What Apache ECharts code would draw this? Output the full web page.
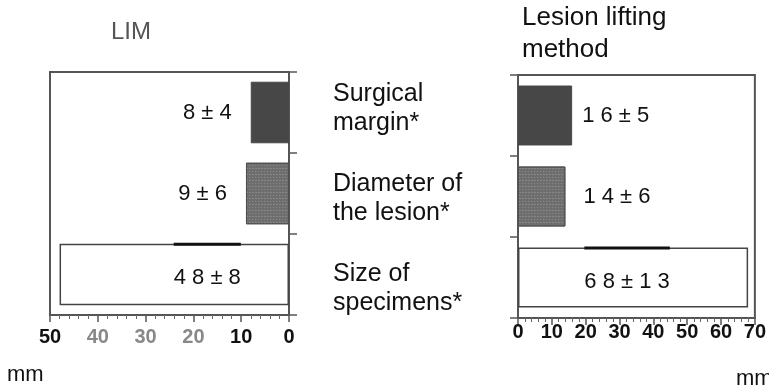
<!DOCTYPE html>
<html>
<head>
<meta charset="utf-8">
<script src="https://cdn.jsdelivr.net/npm/echarts@6/dist/echarts.min.js"></script>
<style>
html,body{margin:0;padding:0;background:#fff;}
#chart{width:769px;height:385px;}
</style>
</head>
<body>
<div id="chart"></div>
<script>
var categories = ['Surgical\nmargin*', 'Diameter of\nthe lesion*', 'Size of\nspecimens*'];
var limMean = [8, 9, 48];
var limSd = [4, 6, 8];
var liftMean = [16, 14, 68];
var liftSd = [5, 6, 13];

var FONT = '"Liberation Sans", Arial, sans-serif';
var barColors = ['#474747', '#6e6e6e', '#ffffff'];
var barBorders = ['#474747', '#505050', '#444444'];
// vertical middle of each category text block in the middle column
var catTextMid = [109, 199, 289];

// spaced digits like the typeset original: "4 8 ± 8"
function spaced(n){ return String(n).split('').join(' '); }
function pm(mean, sd){ return spaced(mean) + ' ± ' + spaced(sd); }

// speckled screen of the middle bar
var speckle = {
	symbol: 'rect', symbolSize: 1, color: 'rgba(255,255,255,0.18)',
	dashArrayX: [[1, 2], [2, 1]], dashArrayY: [1, 2], rotation: 0
};

function makeData(means, sds, side){
	return means.map(function(v, i){
		var txt = pm(v, sds[i]);
		var lbl;
		if (i < 2) {
			lbl = side === 'left'
				? {position: 'left', distance: 19}
				: {position: 'right', distance: i === 0 ? 10 : 18};
			lbl.formatter = txt;
		} else {
			// the white bar carries a dark stroke over its top edge, as wide as the label
			lbl = {
				position: 'insideTop', distance: 0,
				offset: side === 'left' ? [33, -1] : [-6, -1],
				formatter: '{l|}\n{s|}\n{t|' + txt + '}',
				rich: {
					l: {width: '100%', height: 3, backgroundColor: '#111', align: 'left'},
					s: {height: 20},
					t: {fontSize: 22, fontFamily: FONT, color: '#111', lineHeight: 24}
				}
			};
		}
		var style = {color: barColors[i], borderColor: barBorders[i], borderWidth: i === 2 ? 1.5 : 1};
		if (i === 1) style.decal = speckle;
		return {value: v, itemStyle: style, label: Object.assign({show: true}, lbl)};
	});
}

var axisLine = {lineStyle: {color: '#555', width: 2}};
var tickStyle = {show: true, length: 7, lineStyle: {color: '#555', width: 1.5}};
var minorStyle = {show: true, splitNumber: 5, length: 4, lineStyle: {color: '#666'}};

function txt(text, x, y, size, color, lh){
	return {
		type: 'text', x: x, y: y, silent: true,
		style: {
			text: text, fill: color || '#111', font: size + 'px ' + FONT,
			verticalAlign: 'middle', align: 'left', lineHeight: lh || size
		}
	};
}

var graphics = [
	txt('LIM', 111, 32, 24, '#555'),
	txt('Lesion lifting\nmethod', 522, 34, 26, '#111', 32),
	txt('mm', 7, 375, 22),
	txt('mm', 736, 379, 22)
];
categories.forEach(function(c, i){
	graphics.push(txt(c, 333, catTextMid[i], 25, '#111', 29));
});

var chart = echarts.init(document.getElementById('chart'), null, {renderer: 'canvas'});
var option = {
	animation: false,
	textStyle: {fontFamily: FONT},
	graphic: graphics,
	grid: [
		{left: 50, right: 480, top: 72, bottom: 70, show: true, borderColor: '#555', borderWidth: 2},
		{left: 518, right: 11, top: 75, bottom: 67, show: true, borderColor: '#555', borderWidth: 2}
	],
	xAxis: [
		{
			gridIndex: 0, type: 'value', min: 0, max: 50, interval: 10, inverse: true,
			axisLine: axisLine, axisTick: tickStyle, minorTick: minorStyle,
			splitLine: {show: false},
			axisLabel: {
				margin: 12, fontSize: 20, fontWeight: 'bold', fontFamily: FONT,
				color: function(v){ return (v >= 20 && v <= 40) ? '#888' : '#111'; }
			}
		},
		{
			gridIndex: 1, type: 'value', min: 0, max: 70, interval: 10,
			axisLine: axisLine, axisTick: tickStyle, minorTick: minorStyle,
			splitLine: {show: false},
			axisLabel: {margin: 4, fontSize: 20, fontWeight: 'bold', fontFamily: FONT, color: '#111'}
		}
	],
	yAxis: [
		{
			gridIndex: 0, type: 'category', data: categories, inverse: true, position: 'right',
			axisLine: axisLine,
			axisTick: {show: true, length: 8, lineStyle: {color: '#555', width: 1.5}},
			axisLabel: {show: false}
		},
		{
			gridIndex: 1, type: 'category', data: categories, inverse: true, position: 'left',
			axisLine: axisLine,
			axisTick: {show: true, length: 8, lineStyle: {color: '#555', width: 1.5}},
			axisLabel: {show: false}
		}
	],
	series: [
		{
			type: 'bar', xAxisIndex: 0, yAxisIndex: 0, barWidth: '76%',
			label: {fontSize: 22, fontFamily: FONT, color: '#111'},
			data: makeData(limMean, limSd, 'left')
		},
		{
			type: 'bar', xAxisIndex: 1, yAxisIndex: 1, barWidth: '74%',
			label: {fontSize: 22, fontFamily: FONT, color: '#111'},
			data: makeData(liftMean, liftSd, 'right')
		}
	]
};
chart.setOption(option);
</script>
</body>
</html>
